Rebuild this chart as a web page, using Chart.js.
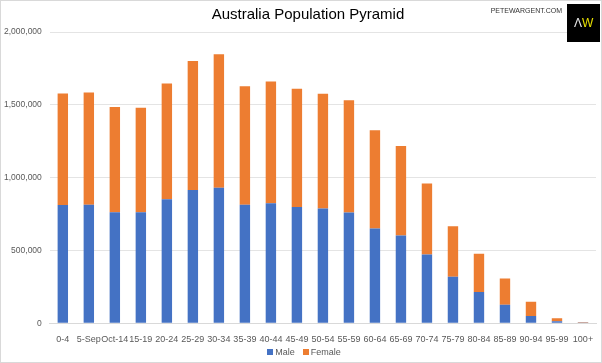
<!DOCTYPE html>
<html>
<head>
<meta charset="utf-8">
<script src="https://cdn.jsdelivr.net/npm/chart.js@4"></script>
<style>
    html, body { margin: 0; padding: 0; background: #fff; }
    #wrap { position: relative; width: 602px; height: 363px; box-sizing: border-box; border: 1px solid #d9d9d9;
        font-family: "Liberation Sans", Arial, sans-serif; }
    #title { position: absolute; left: 0; width: 614px; top: 4px; text-align: center; font-size: 15px; color: #000; }
    #legend { position: absolute; left: 0; width: 606px; top: 346px; text-align: center; font-size: 9px; color: #595959; }
    #legend span { display: inline-block; margin: 0 4px; }
    #legend i { display: inline-block; width: 6px; height: 6px; margin-right: 2px; vertical-align: 0; }
</style>
</head>
<body>
<div id="wrap">
    <canvas id="pyramidChart" width="600" height="361"></canvas>
    <div id="title">Australia Population Pyramid</div>
    <div id="legend"></div>
</div>
<script>
const ageGroups = ['0-4', '5-Sep', 'Oct-14', '15-19', '20-24', '25-29', '30-34', '35-39', '40-44', '45-49',
    '50-54', '55-59', '60-64', '65-69', '70-74', '75-79', '80-84', '85-89', '90-94', '95-99', '100+'];

const male = [812000, 814000, 762000, 762000, 851000, 914000, 930000, 814000, 823000, 798000,
    787000, 760000, 651000, 603000, 471000, 319000, 214000, 126000, 50000, 14000, 1000];

const female = [766000, 771000, 723000, 718000, 796000, 887000, 918000, 814000, 837000, 812000,
    789000, 771000, 675000, 614000, 489000, 347000, 263000, 181000, 98000, 20000, 3000];

const yTicks = [0, 500000, 1000000, 1500000, 2000000];

// site name and logo in the top right corner
const brandPlugin = {
    id: 'brand',
    afterDraw(chart) {
        const ctx = chart.ctx;
        ctx.save();
        ctx.fillStyle = '#333';
        ctx.font = '7px "Liberation Sans", Arial, sans-serif';
        ctx.textAlign = 'right';
        ctx.textBaseline = 'middle';
        ctx.fillText('PETEWARGENT.COM', 561, 10);
        ctx.fillStyle = '#000';
        ctx.fillRect(566, 3, 33, 38);
        ctx.font = '12px "Liberation Sans", Arial, sans-serif';
        ctx.textAlign = 'left';
        ctx.fillStyle = '#e6e6e6';
        ctx.fillText('Λ', 573, 23);
        ctx.fillStyle = '#e8e000';
        ctx.fillText('W', 581, 23);
        ctx.restore();
    }
};

const ctx = document.getElementById('pyramidChart').getContext('2d');
const chart = new Chart(ctx, {
    type: 'bar',
    data: {
        labels: ageGroups,
        datasets: [
            { label: 'Male', data: male, backgroundColor: '#4472c4' },
            { label: 'Female', data: female, backgroundColor: '#ed7d31' }
        ]
    },
    options: {
        responsive: false,
        animation: false,
        datasets: {
            bar: { categoryPercentage: 1, barPercentage: 0.4 }
        },
        layout: { padding: { left: -5, right: 5, top: 31, bottom: 14 } },
        plugins: {
            legend: { display: false },
            tooltip: { enabled: false }
        },
        scales: {
            x: {
                stacked: true,
                grid: { display: false },
                border: { color: '#d9d9d9' },
                ticks: {
                    color: '#595959',
                    autoSkip: false,
                    maxRotation: 0,
                    padding: 3,
                    font: { family: '"Liberation Sans", Arial, sans-serif', size: 9 }
                }
            },
            y: {
                stacked: true,
                min: yTicks[0],
                max: yTicks[yTicks.length - 1],
                afterBuildTicks(axis) {
                    axis.ticks = yTicks.map(v => ({ value: v }));
                },
                grid: { color: '#e4e4e4', drawTicks: false },
                border: { display: false },
                ticks: {
                    color: '#595959',
                    padding: 8,
                    font: { family: '"Liberation Sans", Arial, sans-serif', size: 8.5 },
                    callback: v => v.toLocaleString('en-US')
                }
            }
        }
    },
    plugins: [brandPlugin]
});

// legend under the chart, built from the datasets
const legend = document.getElementById('legend');
for (let ds of chart.data.datasets) {
    const item = document.createElement('span');
    const box = document.createElement('i');
    box.style.background = ds.backgroundColor;
    item.append(box, ds.label);
    legend.append(item);
}
</script>
</body>
</html>
